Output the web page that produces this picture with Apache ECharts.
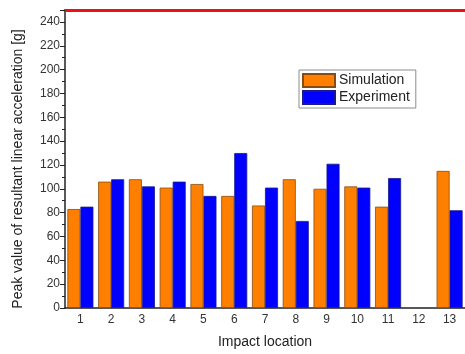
<!DOCTYPE html>
<html>
<head>
<meta charset="utf-8">
<script src="https://cdn.jsdelivr.net/npm/echarts@6/dist/echarts.min.js"></script>
<style>
  html, body { margin: 0; padding: 0; background: #fff; }
  #chart { width: 465px; height: 354px; }
</style>
</head>
<body>
<div id="chart"></div>
<script>
// Impact locations along the x axis
const locations = ['1', '2', '3', '4', '5', '6', '7', '8', '9', '10', '11', '12', '13'];
// Peak resultant linear acceleration [g] per location
const simulation = [83, 106, 108, 101, 104, 94, 86, 108, 100, 102, 85, null, 115];
const experiment = [85, 108, 102, 106, 94, 130, 101, 73, 121, 101, 109, null, 82];
// Value axis range
const yMin = 0;
const yMax = 250;
const yStep = 20;

const font = 'Liberation Sans, Arial, sans-serif';
const chart = echarts.init(document.getElementById('chart'), null, { renderer: 'canvas' });

chart.setOption({
  animation: false,
  backgroundColor: '#ffffff',
  grid: { left: 65, top: 10, width: 407, bottom: 44, containLabel: false },
  legend: {
    orient: 'vertical',
    left: 299,
    top: 70,
    icon: 'rect',
    itemWidth: 32,
    itemHeight: 13,
    itemGap: 2,
    padding: [3, 6, 3, 3],
    borderColor: '#8c8c8c',
    borderWidth: 1,
    backgroundColor: '#fff',
    textStyle: { fontFamily: font, fontSize: 14, color: '#222', padding: [0, 0, 0, -1] },
    data: ['Simulation', 'Experiment']
  },
  xAxis: [
    {
      type: 'category',
      data: locations,
      boundaryGap: true,
      name: 'Impact location',
      nameLocation: 'middle',
      nameGap: 27,
      nameTextStyle: { fontFamily: font, fontSize: 14, color: '#222' },
      axisLine: { lineStyle: { color: '#222', width: 1.5 } },
      axisTick: { show: false },
      axisLabel: { fontFamily: font, fontSize: 12, color: '#333', margin: 6 }
    },
    {
      type: 'category',
      data: locations,
      position: 'top',
      axisLine: { lineStyle: { color: '#ee1111', width: 3 } },
      axisTick: { show: false },
      axisLabel: { show: false }
    }
  ],
  yAxis: {
    type: 'value',
    min: yMin,
    max: yMax,
    interval: yStep,
    name: 'Peak value of resultant linear acceleration [g]',
    nameLocation: 'middle',
    nameGap: 40,
    nameTextStyle: { fontFamily: font, fontSize: 14, color: '#222', padding: [0, 20, 0, 0] },
    axisLine: { show: true, lineStyle: { color: '#222', width: 1.5 } },
    axisTick: { show: true, inside: false, length: 5, lineStyle: { color: '#222' } },
    minorTick: { show: true, splitNumber: 2, length: 3, lineStyle: { color: '#222' } },
    splitLine: { show: false },
    axisLabel: {
      fontFamily: font, fontSize: 12, color: '#333', margin: 5,
      formatter: v => (v > 240 ? '' : String(v))
    }
  },
  series: [
    {
      name: 'Simulation',
      type: 'bar',
      data: simulation,
      barWidth: 13,
      barGap: '0%',
      itemStyle: { color: '#ff8000', borderColor: '#8a4b10', borderWidth: 0.8 }
    },
    {
      name: 'Experiment',
      type: 'bar',
      data: experiment,
      barWidth: 13,
      barGap: '0%',
      itemStyle: { color: '#0000ff', borderColor: '#1a1a8c', borderWidth: 0.8 }
    }
  ]
});
</script>
</body>
</html>
